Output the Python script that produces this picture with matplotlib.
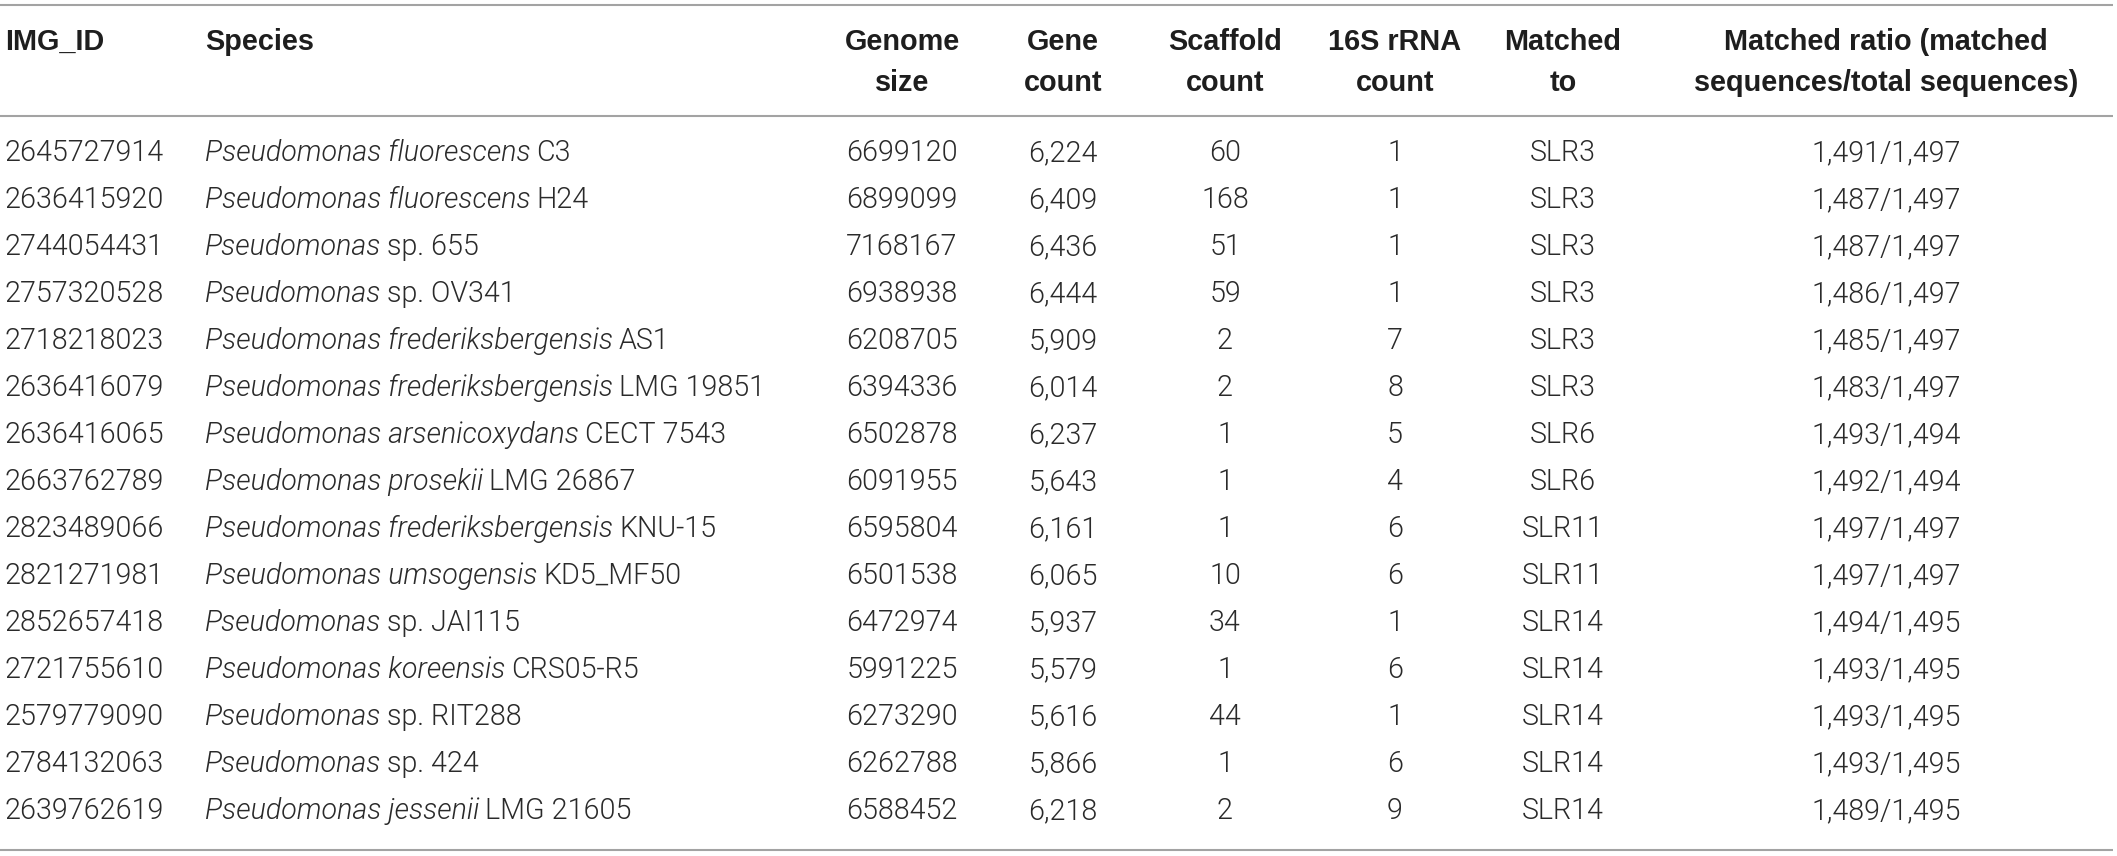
import matplotlib
matplotlib.use('Agg')
import matplotlib.pyplot as plt

# table content
img_ids = ['2645727914', '2636415920', '2744054431', '2757320528', '2718218023',
           '2636416079', '2636416065', '2663762789', '2823489066', '2821271981',
           '2852657418', '2721755610', '2579779090', '2784132063', '2639762619']
species_italic = ['Pseudomonas fluorescens', 'Pseudomonas fluorescens', 'Pseudomonas',
                  'Pseudomonas', 'Pseudomonas frederiksbergensis',
                  'Pseudomonas frederiksbergensis', 'Pseudomonas arsenicoxydans',
                  'Pseudomonas prosekii', 'Pseudomonas frederiksbergensis',
                  'Pseudomonas umsogensis', 'Pseudomonas', 'Pseudomonas koreensis',
                  'Pseudomonas', 'Pseudomonas', 'Pseudomonas jessenii']
species_strain = ['C3', 'H24', 'sp. 655', 'sp. OV341', 'AS1', 'LMG 19851', 'CECT 7543',
                  'LMG 26867', 'KNU-15', 'KD5_MF50', 'sp. JAI115', 'CRS05-R5',
                  'sp. RIT288', 'sp. 424', 'LMG 21605']
genome_size = [6699120, 6899099, 7168167, 6938938, 6208705, 6394336, 6502878, 6091955,
               6595804, 6501538, 6472974, 5991225, 6273290, 6262788, 6588452]
gene_count = [6224, 6409, 6436, 6444, 5909, 6014, 6237, 5643, 6161, 6065, 5937, 5579,
              5616, 5866, 6218]
scaffold_count = [60, 168, 51, 59, 2, 2, 1, 1, 1, 10, 34, 1, 44, 1, 2]
rrna_count = [1, 1, 1, 1, 7, 8, 5, 4, 6, 6, 1, 6, 1, 6, 9]
matched_to = ['SLR3', 'SLR3', 'SLR3', 'SLR3', 'SLR3', 'SLR3', 'SLR6', 'SLR6', 'SLR11',
              'SLR11', 'SLR14', 'SLR14', 'SLR14', 'SLR14', 'SLR14']
matched_n = [1491, 1487, 1487, 1486, 1485, 1483, 1493, 1492, 1497, 1497, 1494, 1493,
             1493, 1493, 1489]
total_n = [1497, 1497, 1497, 1497, 1497, 1497, 1494, 1494, 1497, 1497, 1495, 1495,
           1495, 1495, 1495]
headers = [['IMG_ID'], ['Species'], ['Genome', 'size'], ['Gene', 'count'],
           ['Scaffold', 'count'], ['16S rRNA', 'count'], ['Matched', 'to'],
           ['Matched ratio (matched', 'sequences/total sequences)']]

W, H = 2117, 856
fig = plt.figure(figsize=(W / 100, H / 100), dpi=100)
ax = fig.add_axes([0, 0, 1, 1])
ax.set_xlim(0, W)
ax.set_ylim(H, 0)
ax.axis('off')

body_font = dict(family='Roboto', weight=300, fontsize=20.6, color='#2a2a2a')
head_font = dict(family='Liberation Sans', weight='bold', fontsize=20.8, color='#1e1e1e')
line_col = '#a3a3a3'

# rules
for y in (5, 116, 850):
    ax.plot([0, 2113], [y, y], color=line_col, linewidth=1.5, solid_capstyle='butt')

# header row
col_x = [5, 205, 902, 1063, 1225, 1395, 1563, 1886]
for i, h in enumerate(headers):
    ha = 'left' if i < 2 else 'center'
    for k, part in enumerate(h):
        ax.text(col_x[i], 42 + k * 41, part, ha=ha, va='center', **head_font)

# body
row_y0, row_dy = 153, 47
fig.canvas.draw()
renderer = fig.canvas.get_renderer()
inv = ax.transData.inverted()
for r in range(len(img_ids)):
    y = row_y0 + r * row_dy
    ax.text(col_x[0], y, img_ids[r], ha='left', va='center', **body_font)
    t = ax.text(col_x[1], y, species_italic[r], ha='left', va='center',
                style='italic', **body_font)
    bb = t.get_window_extent(renderer=renderer)
    x_end = inv.transform((bb.x1, bb.y0))[0]
    ax.text(x_end + 6, y, species_strain[r], ha='left', va='center', **body_font)
    ax.text(col_x[2], y, str(genome_size[r]), ha='center', va='center', **body_font)
    ax.text(col_x[3], y, f'{gene_count[r]:,}', ha='center', va='center', **body_font)
    ax.text(col_x[4], y, str(scaffold_count[r]), ha='center', va='center', **body_font)
    ax.text(col_x[5], y, str(rrna_count[r]), ha='center', va='center', **body_font)
    ax.text(col_x[6], y, matched_to[r], ha='center', va='center', **body_font)
    ax.text(col_x[7], y, f'{matched_n[r]:,}/{total_n[r]:,}', ha='center', va='center',
            **body_font)

fig.savefig('out.png', dpi=100)
